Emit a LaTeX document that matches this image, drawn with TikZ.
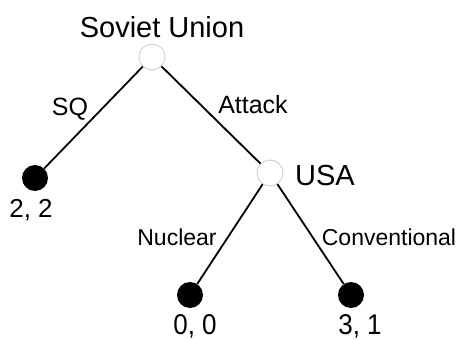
\documentclass[tikz,border=0pt]{standalone}
\usepackage{fontspec}
\setmainfont{Liberation Sans}
\begin{document}
\begin{tikzpicture}[x=1pt,y=-1pt,
  choice/.style={circle,draw={rgb,255:red,200;green,200;blue,200},line width=0.8pt,fill=white,minimum size=26pt,inner sep=0pt},
  term/.style={circle,fill=black,minimum size=26pt,inner sep=0pt},
  edge/.style={line width=1.8pt,black},
  big/.style={anchor=base,font=\fontsize{29}{34}\selectfont,inner sep=0pt},
  mid/.style={anchor=base,font=\fontsize{25}{30}\selectfont,inner sep=0pt},
  small/.style={anchor=base,font=\fontsize{23}{28}\selectfont,inner sep=0pt},
  pay/.style={anchor=base,font=\fontsize{26}{31}\selectfont,inner sep=0pt}]
\useasboundingbox (0,0) rectangle (458,340);
\node[choice] (su) at (152,57) {};
\node[term] (sq) at (35,178) {};
\node[choice] (usa) at (270,173) {};
\node[term] (nuc) at (190,295) {};
\node[term] (conv) at (351,295) {};
\draw[edge] (su) -- (sq);
\draw[edge] (su) -- (usa);
\draw[edge] (usa) -- (nuc);
\draw[edge] (usa) -- (conv);
\node[big] (tsu) at (162,37) {Soviet Union};
\node[big,anchor=base west] (tusa) at (295,185) {USA};
\node[mid] (tsq) at (70,115) {SQ};
\node[mid] (tatt) at (253,113) {Attack};
\node[small] (tnuc) at (177,245) {Nuclear};
\node[small] (tconv) at (389,245) {Conventional};
\node[pay] (p1) at (31,217) {2, 2};
\node[pay] (p2) at (195,334) {\scalebox{1}[1.1]{0, 0}};
\node[pay] (p3) at (360,334) {\scalebox{1}[1.1]{3, 1}};
\end{tikzpicture}
\end{document}
